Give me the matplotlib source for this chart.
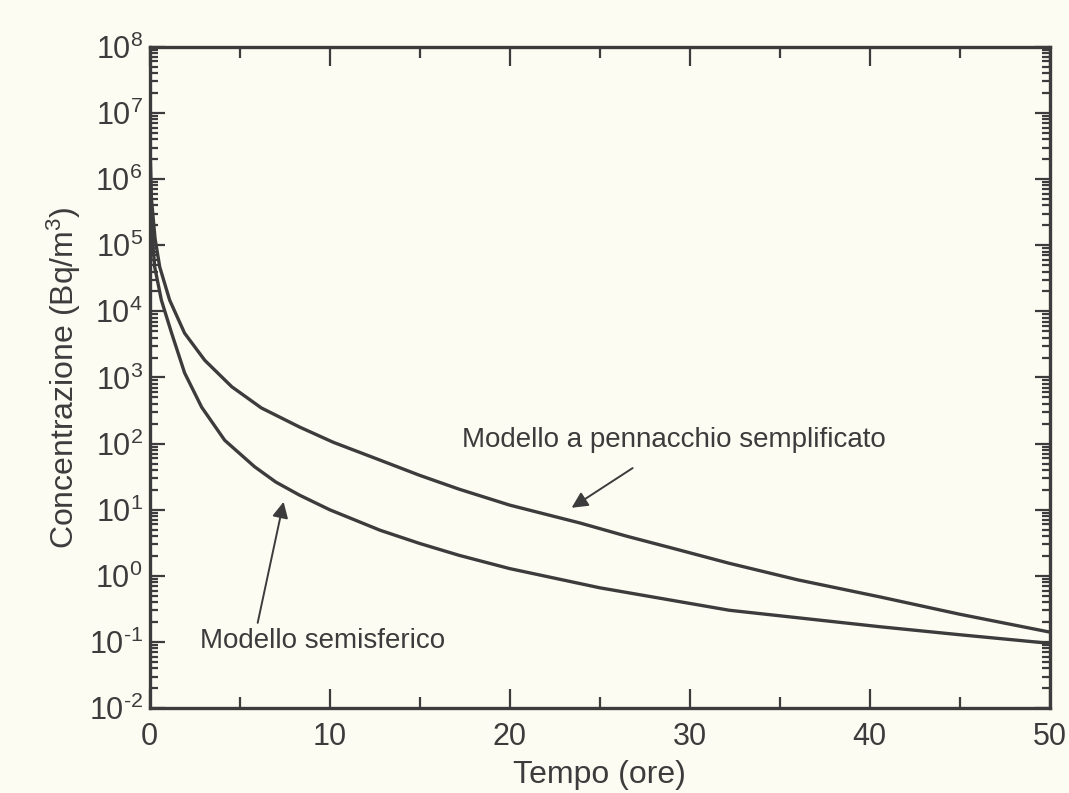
import numpy as np
import matplotlib.pyplot as plt
from matplotlib.ticker import LogLocator, MultipleLocator, FuncFormatter, NullFormatter

plt.rcParams['font.family'] = ['Liberation Sans', 'DejaVu Sans']
plt.rcParams['mathtext.fontset'] = 'custom'
plt.rcParams['mathtext.rm'] = 'Liberation Sans'
plt.rcParams['mathtext.it'] = 'Liberation Sans:italic'
plt.rcParams['mathtext.default'] = 'regular'

# tempo (ore) e log10 della concentrazione
t_pennacchio = [0.03, 0.1, 0.3, 0.56, 1.11, 1.94, 3.06, 4.56, 6.2, 8.33, 10.2, 12.8,
                15.0, 17.2, 20.0, 23.9, 26.5, 29.3, 32.2, 36.0, 40.6, 45.0, 50.0]
log_pennacchio = [6.4, 5.7, 5.1, 4.67, 4.17, 3.67, 3.26, 2.86, 2.54, 2.25, 2.02, 1.75,
                  1.52, 1.31, 1.07, 0.80, 0.60, 0.40, 0.19, -0.06, -0.32, -0.58, -0.85]

t_semisferico = [0.02, 0.05, 0.15, 0.28, 0.65, 1.22, 1.94, 2.89, 4.17, 5.83, 7.0, 8.33,
                 10.0, 12.8, 15.0, 17.2, 20.0, 25.0, 32.2, 40.6, 45.0, 50.0]
log_semisferico = [6.3, 5.8, 5.1, 4.67, 4.17, 3.67, 3.07, 2.55, 2.05, 1.65, 1.42, 1.22,
                   1.00, 0.69, 0.49, 0.31, 0.11, -0.18, -0.52, -0.77, -0.89, -1.02]

sfondo = '#fdfcf3'
colore = '#3c3c3c'


def etichetta_log(y, pos):
    esp = int(round(np.log10(y)))
    if esp < 0:
        return r'$10^{\text{-}%d}$' % (-esp)
    return r'$10^{%d}$' % esp


fig = plt.figure(figsize=(10.69, 7.93), dpi=100, facecolor=sfondo)
ax = fig.add_axes([0.140, 0.107, 0.842, 0.834], facecolor=sfondo)

ax.semilogy(t_pennacchio, 10 ** np.array(log_pennacchio), color=colore, lw=2.4)
ax.semilogy(t_semisferico, 10 ** np.array(log_semisferico), color=colore, lw=2.4)

ax.set_xlim(0, 50)
ax.set_ylim(1e-2, 1e8)

ax.xaxis.set_major_locator(MultipleLocator(10))
ax.xaxis.set_minor_locator(MultipleLocator(5))
ax.yaxis.set_major_locator(LogLocator(base=10, numticks=20))
ax.yaxis.set_major_formatter(FuncFormatter(etichetta_log))
ax.yaxis.set_minor_locator(LogLocator(base=10, subs=np.arange(2, 10), numticks=20))
ax.yaxis.set_minor_formatter(NullFormatter())

ax.tick_params(which='both', direction='in', top=True, right=True, colors=colore,
               labelsize=22, width=1.6)
ax.tick_params(axis='x', which='major', length=14, pad=10)
ax.tick_params(axis='x', which='minor', length=8)
ax.tick_params(axis='y', which='major', length=11, pad=5)
ax.tick_params(axis='y', which='minor', length=6)
for s in ax.spines.values():
    s.set_linewidth(2.4)
    s.set_color(colore)

ax.set_xlabel('Tempo (ore)', fontsize=23, color=colore, labelpad=6)
ax.set_ylabel('Concentrazione (Bq/m$^3$)', fontsize=23, color=colore, labelpad=4)

freccia = dict(arrowstyle='-|>', color=colore, lw=1.4, mutation_scale=24,
               shrinkA=0, shrinkB=0)
ax.annotate('', xy=(23.44, 10 ** 1.03), xytext=(26.83, 10 ** 1.63), arrowprops=freccia)
ax.annotate('', xy=(7.44, 10 ** 1.12), xytext=(6.0, 10 ** -0.71), arrowprops=freccia)
ax.text(17.33, 10 ** 2.05, 'Modello a pennacchio semplificato', ha='left', va='center',
        fontsize=20, color=colore)
ax.text(2.78, 10 ** -0.99, 'Modello semisferico', ha='left', va='center',
        fontsize=20, color=colore)

fig.savefig('out.png', dpi=100, facecolor=sfondo)
